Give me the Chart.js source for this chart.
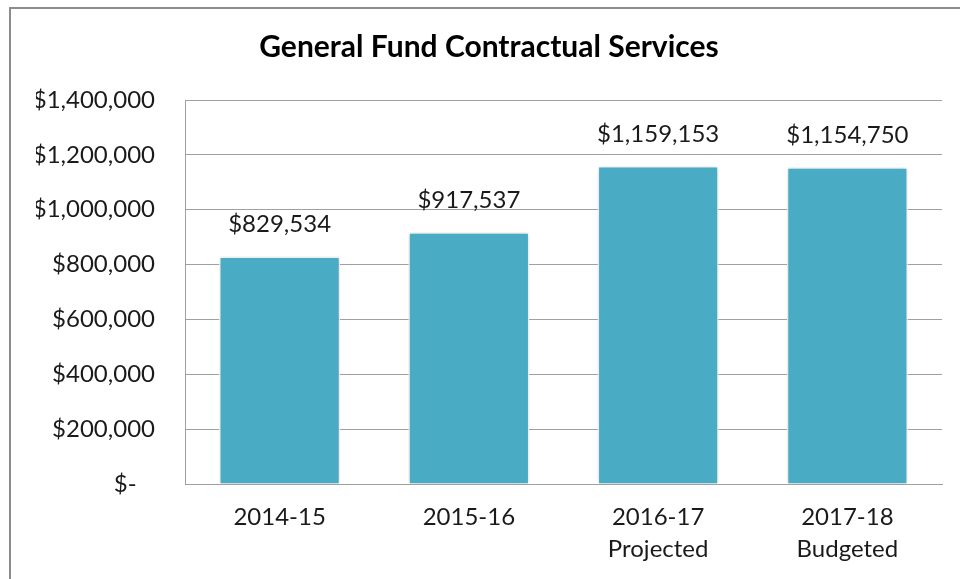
<!DOCTYPE html>
<html>
<head>
<meta charset="utf-8">
<script src="https://cdn.jsdelivr.net/npm/chart.js@4.4.1/dist/chart.umd.min.js"></script>
<style>
  html, body { margin: 0; padding: 0; background: #fff; overflow: hidden; }
  #wrap { position: relative; width: 960px; height: 579px; }
  #frame { position: absolute; left: 9px; top: 7px; width: 1000px; height: 700px; border: 2px solid #8c8c8c; box-sizing: border-box; pointer-events: none; }
  canvas { position: absolute; left: 0; top: 0; }
</style>
</head>
<body>
<div id="wrap">
  <canvas id="fundChart" width="960" height="579"></canvas>
  <div id="frame"></div>
</div>
<script>
// chart data
const years = [['2014-15'], ['2015-16'], ['2016-17', 'Projected'], ['2017-18', 'Budgeted']];
const spending = [829534, 917537, 1159153, 1154750];
const tickValues = [0, 200000, 400000, 600000, 800000, 1000000, 1200000, 1400000];

const FONT = 'Lato, "Open Sans", sans-serif';
const money = (v) => '$' + v.toLocaleString('en-US');

// labels above each bar
const barLabels = {
  id: 'barLabels',
  afterDatasetsDraw(chart) {
    const ctx = chart.ctx;
    const meta = chart.getDatasetMeta(0);
    ctx.save();
    ctx.font = '24px ' + FONT;
    ctx.fillStyle = '#1a1a1a';
    ctx.textAlign = 'center';
    ctx.textBaseline = 'middle';
    meta.data.forEach((bar, i) => {
      ctx.fillText(money(spending[i]), bar.x, bar.y - 32);
    });
    ctx.restore();
  }
};

// soft shadow round the bars
const barShadow = {
  id: 'barShadow',
  beforeDatasetDraw(chart) {
    chart.ctx.save();
    chart.ctx.shadowColor = 'rgba(0,0,0,0.22)';
    chart.ctx.shadowBlur = 5;
  },
  afterDatasetDraw(chart) {
    chart.ctx.restore();
  }
};

new Chart(document.getElementById('fundChart'), {
  type: 'bar',
  data: {
    labels: years,
    datasets: [{
      data: spending,
      backgroundColor: '#4aabc5',
      borderColor: '#ffffff',
      borderWidth: 1.5,
      categoryPercentage: 0.64,
      barPercentage: 1
    }]
  },
  options: {
    responsive: false,
    animation: false,
    devicePixelRatio: 1,
    layout: { padding: { left: 36, right: 18, top: 0, bottom: 0 } },
    plugins: {
      legend: { display: false },
      tooltip: { enabled: false },
      title: {
        display: true,
        text: 'General Fund Contractual Services',
        color: '#000000',
        font: { family: FONT, size: 30, weight: 'bold' },
        padding: { top: 29, bottom: 35 }
      }
    },
    scales: {
      x: {
        grid: { display: false, drawTicks: false },
        border: { color: '#a0a0a0', width: 1 },
        ticks: {
          color: '#1a1a1a',
          font: { family: FONT, size: 24, lineHeight: 1.3 },
          padding: 18,
          maxRotation: 0
        },
        afterFit: (scale) => { scale.height = 95; }
      },
      y: {
        min: 0,
        max: 1400000,
        afterBuildTicks: (scale) => { scale.ticks = tickValues.map(v => ({ value: v })); },
        grid: { color: '#a0a0a0', lineWidth: 1, drawTicks: false },
        border: { color: '#a0a0a0', width: 1 },
        ticks: {
          color: '#1a1a1a',
          font: { family: FONT, size: 24 },
          padding: 30,
          callback: (v) => v === 0 ? '$-   ' : money(v)
        },
        afterFit: (scale) => { scale.width = 149; }
      }
    }
  },
  plugins: [barShadow, barLabels]
});
</script>
</body>
</html>
